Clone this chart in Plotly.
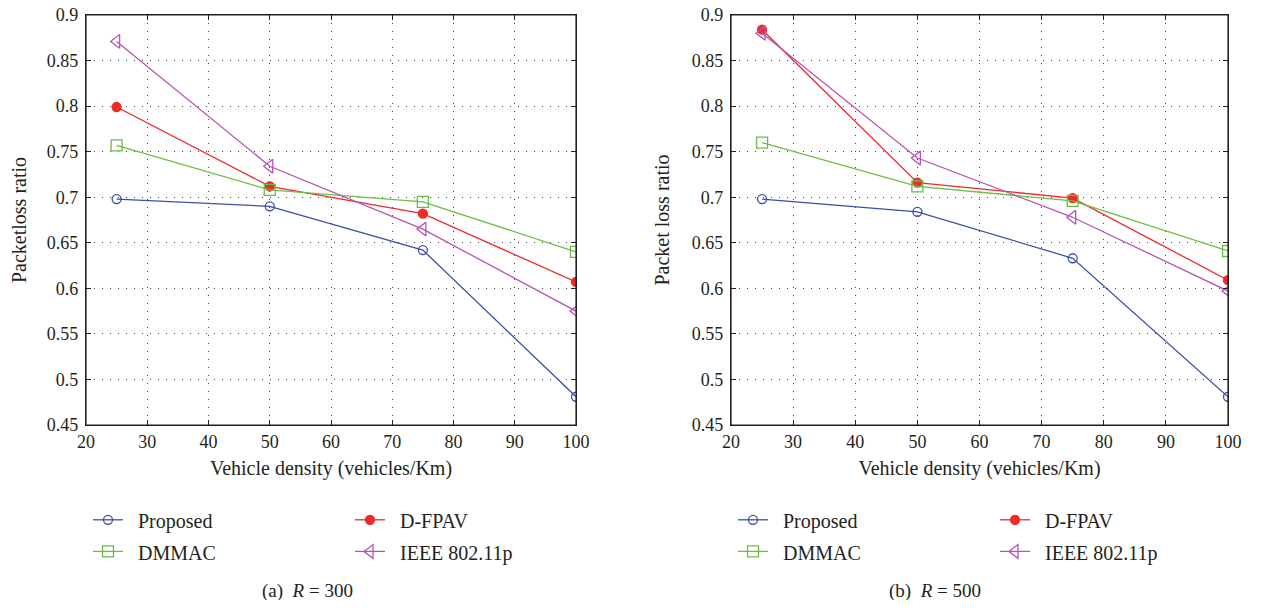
import plotly.graph_objects as go

# ---------------- data ----------------
density = [25, 50, 75, 100]

# (a) R = 300
proposed_300 = [0.698, 0.690, 0.642, 0.481]
dfpav_300 = [0.799, 0.712, 0.682, 0.607]
dmmac_300 = [0.757, 0.708, 0.695, 0.640]
ieee_300 = [0.871, 0.734, 0.665, 0.575]

# (b) R = 500
proposed_500 = [0.698, 0.684, 0.633, 0.481]
dfpav_500 = [0.884, 0.716, 0.699, 0.609]
dmmac_500 = [0.760, 0.712, 0.696, 0.641]
ieee_500 = [0.880, 0.743, 0.678, 0.597]

series_names = ["Proposed", "D-FPAV", "DMMAC", "IEEE 802.11p"]
x_tickvals = [20, 30, 40, 50, 60, 70, 80, 90, 100]
y_tickvals = [0.45, 0.5, 0.55, 0.6, 0.65, 0.7, 0.75, 0.8, 0.85, 0.9]
y_ticktext = ["0.45", "0.5", "0.55", "0.6", "0.65", "0.7", "0.75", "0.8", "0.85", "0.9"]
captions = ["(a)  <i>R</i> = 300", "(b)  <i>R</i> = 500"]
y_titles = ["Packetloss ratio", "Packet loss ratio"]
x_title = "Vehicle density (vehicles/Km)"

# ---------------- styles ----------------
OFF = 8                      # default page body margin in the browser
W, H = 1287 - 2 * OFF, 608 - 2 * OFF
FONT = "'Liberation Serif', 'DejaVu Serif', serif"
TXT = "#231f20"
styles = {
    "Proposed": dict(color="#3b4fa6", symbol="circle-open", size=9, group="g1"),
    "D-FPAV": dict(color="#ee2a2a", symbol="circle", size=9, group="g2"),
    "DMMAC": dict(color="#6cbd45", symbol="square-open", size=11, group="g1"),
    "IEEE 802.11p": dict(color="#b555b0", symbol="triangle-left-open", size=12, group="g2"),
}

panels = [
    dict(data=[proposed_300, dfpav_300, dmmac_300, ieee_300], xa="x", ya="y", legend="legend"),
    dict(data=[proposed_500, dfpav_500, dmmac_500, ieee_500], xa="x2", ya="y2", legend="legend2"),
]

fig = go.Figure()
for p in panels:
    for name, vals in zip(series_names, p["data"]):
        st = styles[name]
        fig.add_trace(go.Scatter(
            x=density, y=vals, mode="lines+markers",
            name="<span style='font-size:20px'>&nbsp;&nbsp;" + name + "</span>",
            xaxis=p["xa"], yaxis=p["ya"], legend=p["legend"], legendgroup=st["group"],
            line=dict(color=st["color"], width=1.3),
            marker=dict(symbol=st["symbol"], size=st["size"], color=st["color"],
                        line=dict(color=st["color"], width=1.3)),
            hoverinfo="x+y",
        ))

def px_x(v):
    return (v - OFF) / W

def px_y(v):
    return 1 - (v - OFF) / H

axis_common = dict(
    showline=True, linecolor="#231f20", linewidth=1.2, mirror="ticks",
    ticks="inside", ticklen=5, tickcolor="#231f20", tickwidth=1,
    showgrid=True, gridcolor="#444444", gridwidth=1, griddash="1px,7px",
    zeroline=False, automargin=False, ticklabeloverflow="allow",
    tickfont=dict(family=FONT, size=18, color=TXT),
)

x_domains = [[px_x(86), px_x(576)], [px_x(731), px_x(1228)]]
y_domain = [px_y(425), px_y(15)]

layout = dict(
    width=W, height=H, margin=dict(l=0, r=0, t=0, b=0, autoexpand=False),
    paper_bgcolor="white", plot_bgcolor="white",
    font=dict(family=FONT, size=18, color=TXT),
    showlegend=True,
)
for i, suffix in enumerate(["", "2"]):
    layout["xaxis" + suffix] = dict(
        axis_common, domain=x_domains[i], range=[20, 100], tickvals=x_tickvals,
        anchor="y" + suffix,
        title=dict(text=x_title, font=dict(family=FONT, size=20, color=TXT), standoff=10),
    )
    layout["yaxis" + suffix] = dict(
        axis_common, domain=y_domain, range=[0.45, 0.9], tickvals=y_tickvals,
        ticktext=y_ticktext, anchor="x" + suffix, ticklabelstandoff=3,
        title=dict(text=y_titles[i], font=dict(family=FONT, size=20, color=TXT),
                   standoff=[18, 16][i]),
    )
    layout["legend" + suffix] = dict(
        x=px_x([88, 733][i]), y=px_y(499), xanchor="left", yanchor="top",
        orientation="h", traceorder="grouped", entrywidth=217,
        font=dict(family=FONT, size=22, color=TXT), bgcolor="rgba(0,0,0,0)",
        itemclick=False, itemdoubleclick=False,
    )

fig.update_layout(**layout)

# full frame around each panel
for suffix in ["", "2"]:
    fig.add_shape(type="rect", xref="x" + suffix + " domain", yref="y" + suffix + " domain",
                  x0=0, x1=1, y0=0, y1=1, line=dict(color="#231f20", width=1.2),
                  fillcolor="rgba(0,0,0,0)", layer="above")

for i, cap in enumerate(captions):
    fig.add_annotation(
        text=cap, x=px_x([307, 935][i]), y=px_y(591), xref="paper", yref="paper",
        showarrow=False, font=dict(family=FONT, size=19, color=TXT),
        xanchor="center", yanchor="middle",
    )

fig.write_html("out.html")
